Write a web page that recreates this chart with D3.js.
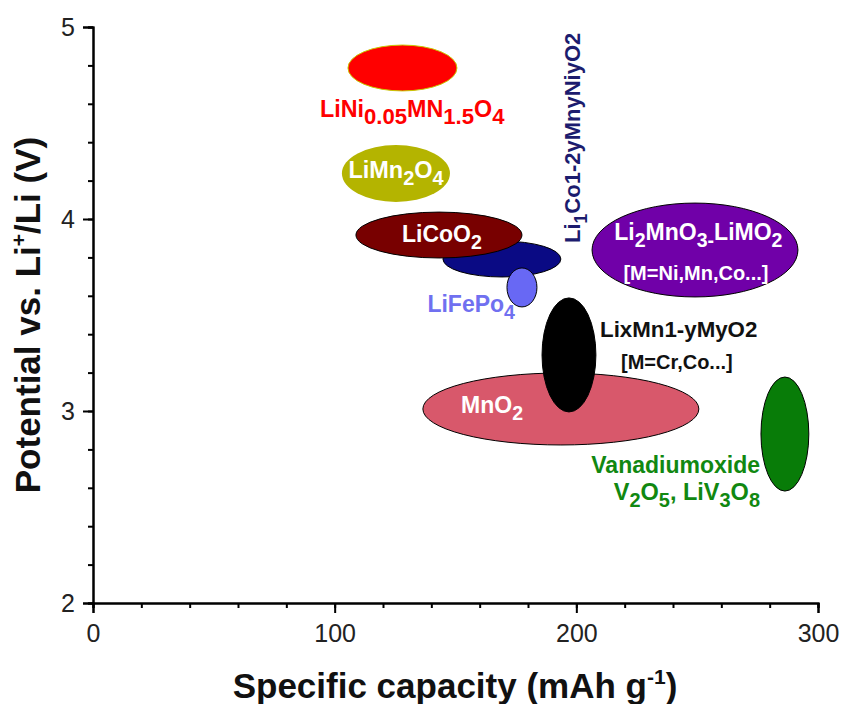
<!DOCTYPE html>
<html>
<head>
<meta charset="utf-8">
<script src="https://cdn.jsdelivr.net/npm/d3@7"></script>
<style>
  body { margin: 0; background: #fff; }
  text { font-family: "Liberation Sans", Arial, sans-serif; }
</style>
</head>
<body>
<div id="chart"></div>
<script>
var width = 842,
    height = 704;

// cathode materials: capacity range (mAh/g) and potential range (V)
var materials = ["LiNi0.05Mn1.5O4", "LiMn2O4", "LiNiMnCoO2", "LiCoO2", "LiFePO4",
                 "Li2MnO3-LiMO2", "MnO2", "LixMn1-yMyO2", "V2O5"];
var capMin = [105.5, 103, 144.8, 108.8, 171.3, 206.5, 136.5, 185.8, 276.4];
var capMax = [150.6, 147.7, 193.6, 177.5, 183.7, 291.7, 250.7, 208.1, 296.2];
var voltMin = [4.667, 4.089, 3.698, 3.797, 3.542, 3.594, 2.823, 2.995, 2.583];
var voltMax = [4.906, 4.385, 3.885, 4.036, 3.745, 4.083, 3.198, 3.589, 3.177];

var xTicks = [0, 100, 200, 300];
var yTicks = [2, 3, 4, 5];

var fills = ["#ff0000", "#b4b400", "#0a0a84", "#780000", "#6868f4",
             "#7000a8", "#d8586b", "#000000", "#087c08"];
var strokes = ["#c8c800", "none", "#000", "#000", "#000", "#000", "#000", "#000", "#000"];

var svg = d3.select("#chart").append("svg")
    .attr("width", width)
    .attr("height", height);

var x = d3.scaleLinear().domain([0, 300]).range([93, 818]);
var y = d3.scaleLinear().domain([2, 5]).range([603, 27]);

// subscript / superscript helper: "Li_{2}" and "g^{-1}"
function rich(t, str, size, subScale) {
    var re = /([_^])\{([^}]*)\}|([^_^]+)/g, m, shift = 0;
    subScale = subScale || 0.85;
    t.attr("font-size", size);
    while ((m = re.exec(str)) !== null) {
        var ts = t.append("tspan");
        if (m[3]) {
            ts.text(m[3]);
            if (shift) ts.attr("dy", -shift);
            shift = 0;
        } else if (m[1] == "_") {
            ts.text(m[2]).attr("font-size", size * subScale).attr("dy", size * 0.3 - shift);
            shift = size * 0.3;
        } else {
            ts.text(m[2]).attr("font-size", size * 0.6).attr("dy", -size * 0.4 - shift);
            shift = -size * 0.4;
        }
    }
}

// ellipses
svg.append("g").selectAll("ellipse")
    .data(materials)
    .enter().append("ellipse")
    .attr("cx", function(d, i) { return x((capMin[i] + capMax[i]) / 2); })
    .attr("cy", function(d, i) { return y((voltMin[i] + voltMax[i]) / 2); })
    .attr("rx", function(d, i) { return (x(capMax[i]) - x(capMin[i])) / 2; })
    .attr("ry", function(d, i) { return (y(voltMin[i]) - y(voltMax[i])) / 2; })
    .attr("fill", function(d, i) { return fills[i]; })
    .attr("stroke", function(d, i) { return strokes[i]; })
    .attr("stroke-width", 1);

// labels (placed in data units)
var labels = [
    { s: "LiNi_{0.05}MN_{1.5}O_{4}", cx: 93.9, cy: 4.531, a: "start", c: "#ff0000", f: 23.3, k: 0.95 },
    { s: "LiMn_{2}O_{4}", cx: 125.4, cy: 4.214, a: "middle", c: "#fff", f: 23.5 },
    { s: "LiCoO_{2}", cx: 144.4, cy: 3.880, a: "middle", c: "#fff", f: 23 },
    { s: "LiFePo_{4}", cx: 174.6, cy: 3.516, a: "end", c: "#7070f0", f: 23 },
    { s: "Li_{2}MnO_{3-}LiMO_{2}", cx: 250.5, cy: 3.891, a: "middle", c: "#fff", f: 23 },
    { s: "[M=Ni,Mn,Co...]", cx: 249.5, cy: 3.682, a: "middle", c: "#fff", f: 20 },
    { s: "LixMn1-yMyO2", cx: 209.8, cy: 3.385, a: "start", c: "#111", f: 22.3 },
    { s: "[M=Cr,Co...]", cx: 241.6, cy: 3.219, a: "middle", c: "#111", f: 20 },
    { s: "MnO_{2}", cx: 152.3, cy: 2.990, a: "start", c: "#fff", f: 23 },
    { s: "Vanadiumoxide", cx: 276, cy: 2.677, a: "end", c: "#118811", f: 23 },
    { s: "V_{2}O_{5}, LiV_{3}O_{8}", cx: 276, cy: 2.536, a: "end", c: "#118811", f: 23.5 }
];

labels.forEach(function(l) {
    var t = svg.append("text")
        .attr("x", x(l.cx))
        .attr("y", y(l.cy))
        .attr("text-anchor", l.a)
        .attr("font-weight", "bold")
        .attr("fill", l.c);
    rich(t, l.s, l.f, l.k);
});

// vertical label for the layered oxide
var vt = svg.append("text")
    .attr("transform", "translate(" + x(201.5) + "," + y(3.875) + ") rotate(-90)")
    .attr("font-weight", "bold")
    .attr("fill", "#1c1c6e");
rich(vt, "Li_{1}Co1-2yMnyNiyO2", 22, 0.8);

// axes: minor ticks first, then major
var xMinor = d3.axisBottom(x).tickValues(d3.range(0, 301, 20)).tickSize(5).tickFormat("");
var yMinor = d3.axisLeft(y).tickValues(d3.range(2, 5.01, 0.2)).tickSize(5).tickFormat("");
var xMajor = d3.axisBottom(x).tickValues(xTicks).tickSize(10).tickPadding(11).tickFormat(d3.format("d"));
var yMajor = d3.axisLeft(y).tickValues(yTicks).tickSize(10).tickPadding(8).tickFormat(d3.format("d"));

[xMinor, xMajor].forEach(function(ax) {
    svg.append("g").attr("class", "axis")
        .attr("transform", "translate(0," + y(2) + ")")
        .call(ax);
});
[yMinor, yMajor].forEach(function(ax) {
    svg.append("g").attr("class", "axis")
        .attr("transform", "translate(" + x(0) + ",0)")
        .call(ax);
});

svg.selectAll(".axis path").attr("stroke", "#000").attr("stroke-width", 2);
svg.selectAll(".axis line").attr("stroke", "#000").attr("stroke-width", 2);
svg.selectAll(".axis text")
    .attr("font-family", "\"Liberation Sans\", Arial, sans-serif")
    .attr("font-size", 25)
    .attr("fill", "#222");

// axis titles
var xt = svg.append("text")
    .attr("x", 455)
    .attr("y", 698)
    .attr("text-anchor", "middle")
    .attr("font-weight", "bold")
    .attr("fill", "#111");
rich(xt, "Specific capacity (mAh g^{-1})", 35);

var yt = svg.append("text")
    .attr("transform", "translate(40,315) rotate(-90)")
    .attr("text-anchor", "middle")
    .attr("font-weight", "bold")
    .attr("fill", "#111");
rich(yt, "Potential vs. Li^{+}/Li (V)", 35);
</script>
</body>
</html>
